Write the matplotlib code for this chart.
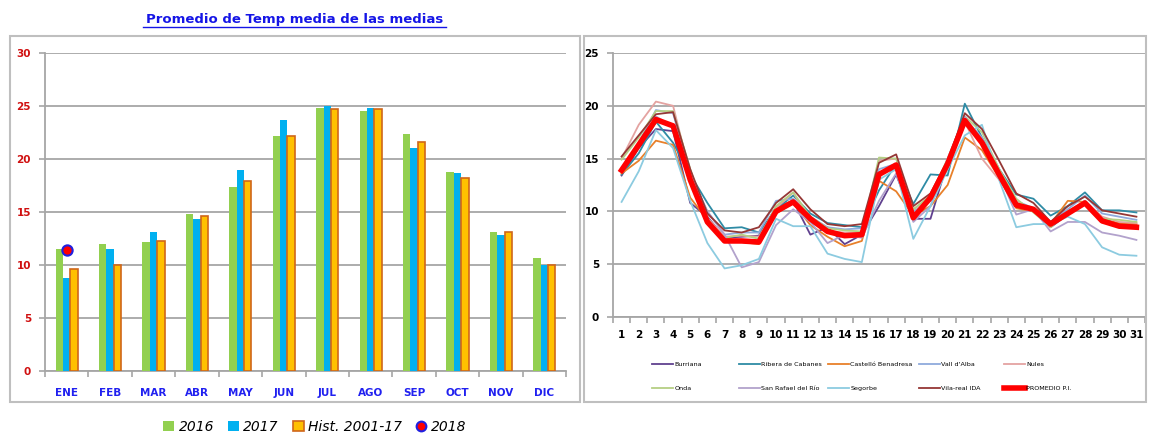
import matplotlib
matplotlib.use("Agg")
import matplotlib.pyplot as plt
import numpy as np
from matplotlib.patches import Rectangle
from matplotlib.lines import Line2D

# ---------------- data: left chart ----------------
months = ["ENE", "FEB", "MAR", "ABR", "MAY", "JUN", "JUL", "AGO", "SEP", "OCT", "NOV", "DIC"]
v2016 = [11.5, 12.0, 12.2, 14.8, 17.4, 22.2, 24.8, 24.5, 22.4, 18.8, 13.1, 10.7]
v2017 = [8.8, 11.5, 13.1, 14.3, 19.0, 23.7, 25.0, 24.8, 21.0, 18.7, 12.8, 10.0]
hist = [9.6, 10.0, 12.3, 14.6, 17.9, 22.2, 24.7, 24.7, 21.6, 18.2, 13.1, 10.0]
v2018 = [11.4]
series_labels = ["2016", "2017", "Hist. 2001-17", "2018"]
left_title = "Promedio de Temp media de las medias"

# ---------------- data: right chart ----------------
days = list(range(1, 32))
burriana = [13.4, 16.0, 17.8, 17.6, 10.8, 9.5, 7.5, 7.6, 7.7, 10.4, 11.0, 7.8, 8.5, 6.9, 7.8, 10.5,
            13.5, 9.3, 9.3, 14.7, 18.3, 16.5, 13.5, 10.5, 10.2, 8.5, 9.7, 11.0, 9.3, 8.8, 8.7]
ribera = [13.5, 15.5, 18.5, 16.5, 13.5, 10.8, 8.4, 8.5, 8.0, 10.2, 11.5, 9.8, 8.9, 8.7, 8.5, 12.0,
          14.5, 10.7, 13.5, 13.4, 20.2, 17.0, 14.0, 11.6, 11.2, 9.6, 10.5, 11.8, 10.1, 10.1, 9.9]
castello = [13.6, 14.8, 16.7, 16.3, 11.3, 9.2, 7.5, 7.1, 6.9, 9.8, 10.8, 8.7, 7.6, 6.7, 7.2, 12.9,
            11.9, 9.6, 10.5, 12.5, 17.0, 15.8, 13.2, 10.3, 10.0, 8.8, 11.0, 10.9, 9.2, 8.9, 8.8]
vall = [14.0, 16.5, 19.6, 19.3, 13.5, 10.0, 7.8, 8.0, 8.0, 11.0, 11.2, 9.5, 8.5, 8.3, 8.4, 14.0,
        14.5, 10.0, 11.0, 15.0, 18.8, 17.0, 14.0, 11.0, 10.3, 9.0, 10.2, 11.5, 9.8, 9.5, 9.2]
nules = [15.0, 18.2, 20.4, 20.0, 13.5, 9.4, 7.6, 7.7, 7.6, 10.3, 11.8, 9.0, 8.1, 8.0, 8.0, 14.8,
         15.0, 10.2, 11.2, 14.8, 18.5, 15.0, 13.0, 11.0, 10.0, 8.5, 10.0, 11.0, 9.5, 9.0, 8.9]
onda = [14.9, 17.0, 19.5, 19.5, 14.0, 9.0, 7.5, 7.8, 7.4, 10.5, 11.8, 9.5, 8.4, 8.2, 8.1, 15.1,
        15.0, 10.2, 11.5, 15.0, 19.0, 17.5, 14.0, 11.2, 9.9, 8.5, 10.0, 10.9, 9.3, 9.2, 9.0]
sanrafael = [13.8, 16.2, 19.0, 18.0, 13.5, 10.0, 7.8, 4.7, 5.2, 8.7, 10.2, 9.0, 7.0, 7.8, 7.5, 11.0,
             13.6, 9.0, 10.5, 15.0, 19.0, 16.5, 13.5, 9.7, 10.2, 8.1, 9.0, 9.0, 8.0, 7.7, 7.3]
segorbe = [10.9, 13.8, 17.7, 16.0, 11.0, 7.0, 4.6, 4.9, 5.5, 9.3, 8.6, 8.6, 6.0, 5.5, 5.2, 13.0,
           14.0, 7.4, 10.5, 14.0, 17.2, 18.2, 13.0, 8.5, 8.8, 8.8, 9.5, 8.8, 6.6, 5.9, 5.8]
vilareal = [15.2, 17.2, 19.2, 19.4, 14.0, 9.8, 8.2, 8.0, 8.5, 10.8, 12.1, 10.2, 8.8, 8.6, 8.8, 14.6,
            15.4, 10.5, 11.7, 14.8, 19.3, 17.8, 14.8, 11.7, 10.8, 9.0, 10.5, 11.4, 10.1, 9.8, 9.5]
promedio = [13.9, 16.3, 18.7, 18.1, 13.0, 9.0, 7.2, 7.2, 7.1, 10.0, 10.9, 9.3, 8.1, 7.7, 7.8, 13.5,
            14.4, 9.4, 11.3, 14.5, 18.6, 16.5, 13.5, 10.6, 10.2, 8.8, 9.8, 10.8, 9.1, 8.6, 8.5]
station_names = ["Burriana", "Ribera de Cabanes", "Castelló Benadresa", "Vall d'Alba", "Nules",
                 "Onda", "San Rafael del Río", "Segorbe", "Vila-real IDA", "PROMEDIO P.I."]
station_values = [burriana, ribera, castello, vall, nules, onda, sanrafael, segorbe, vilareal, promedio]
station_colors = ["#60418F", "#2E8BA5", "#E8802A", "#8FAADC", "#E4A3A1",
                  "#B5CF84", "#B2A2CC", "#8CCBE0", "#953735", "#FF0000"]

W, H = 1149, 434
fig = plt.figure(figsize=(W / 100, H / 100), dpi=100)
fig.patch.set_facecolor("white")

def fx(px):
    return px / W

def fy(py):
    return 1 - py / H

# panel frames
fig.patches.append(Rectangle((fx(10), fy(402)), fx(570), (402 - 36) / H, transform=fig.transFigure,
                             fill=False, edgecolor="#BFBFBF", lw=1.5, zorder=0))
fig.patches.append(Rectangle((fx(584), fy(402)), fx(562), (402 - 36) / H, transform=fig.transFigure,
                             fill=False, edgecolor="#BFBFBF", lw=1.5, zorder=0))

grid_color = "#A6A6A6"

# ---------------- left chart ----------------
ax1 = fig.add_axes([fx(45), fy(371), fx(566 - 45), (371 - 53) / H])
x = np.arange(len(months))
bw = 0.17
ax1.bar(x - bw, v2016, width=bw, color="#92D050", zorder=3, label=series_labels[0])
ax1.bar(x, v2017, width=bw, color="#00B0F0", zorder=3, label=series_labels[1])
ax1.bar(x + bw, hist, width=bw, color="#FFC000", edgecolor="#D0661A", linewidth=1.2, zorder=3,
        label=series_labels[2])
ax1.scatter(x[:len(v2018)], v2018, s=55, color="#FF0000", edgecolor="#2020E0", linewidth=1.5,
            zorder=5, label=series_labels[3])
ax1.set_xlim(-0.5, len(months) - 0.5)
ax1.set_ylim(0, 30)
ax1.set_yticks(range(0, 31, 5))
ax1.yaxis.grid(True, color=grid_color, lw=1.3, zorder=0)
ax1.set_axisbelow(True)
for s in ["top", "right"]:
    ax1.spines[s].set_visible(False)
for s in ["left", "bottom"]:
    ax1.spines[s].set_color(grid_color)
    ax1.spines[s].set_linewidth(1.3)
ax1.set_xticks(np.arange(-0.5, len(months), 1.0))
ax1.set_xticklabels([])
ax1.set_xticks(x, minor=True)
ax1.set_xticklabels(months, minor=True)
ax1.tick_params(axis="x", which="major", length=4, color=grid_color, width=1.2)
ax1.tick_params(axis="x", which="minor", length=0, pad=12)
ax1.tick_params(axis="y", length=4, color=grid_color, width=1.2, pad=6)
for lbl in ax1.get_xticklabels(minor=True):
    lbl.set_color("#2020F0")
    lbl.set_fontweight("bold")
    lbl.set_fontsize(7.5)
for lbl in ax1.get_yticklabels():
    lbl.set_color("#D01010")
    lbl.set_fontweight("bold")
    lbl.set_fontsize(7.5)

fig.text(fx(295), fy(19), left_title, ha="center", va="center", color="#1515E6",
         fontsize=9.5, fontweight="bold", family="DejaVu Sans")
fig.add_artist(Line2D([fx(143), fx(446)], [fy(27), fy(27)], color="#1515E6", lw=1.0))

lh = [Rectangle((0, 0), 1, 1, facecolor="#92D050", edgecolor="none"),
      Rectangle((0, 0), 1, 1, facecolor="#00B0F0", edgecolor="none"),
      Rectangle((0, 0), 1, 1, facecolor="#FFC000", edgecolor="#D0661A", lw=1.2),
      Line2D([], [], marker="o", ls="none", markersize=7, markerfacecolor="#FF0000",
             markeredgecolor="#2020E0", markeredgewidth=1.5)]
fig.legend(lh, series_labels, loc="center", bbox_to_anchor=(fx(315), fy(427)), ncol=4,
           frameon=False, prop={"style": "italic", "size": 10}, handlelength=0.8,
           handleheight=0.8, handletextpad=0.3, columnspacing=1.0)

# ---------------- right chart ----------------
ax2 = fig.add_axes([fx(613), fy(317), fx(1145 - 613), (317 - 53) / H])
for vals, name, col in zip(station_values, station_names, station_colors):
    if name.startswith("PROMEDIO"):
        ax2.plot(days, vals, color=col, lw=4.0, zorder=4, label=name)
    else:
        ax2.plot(days, vals, color=col, lw=1.3, zorder=3, label=name)
ax2.set_xlim(0.5, 31.5)
ax2.set_ylim(0, 25)
ax2.set_yticks(range(0, 26, 5))
ax2.yaxis.grid(True, color=grid_color, lw=1.3, zorder=0)
ax2.set_axisbelow(True)
for s in ["top", "right"]:
    ax2.spines[s].set_visible(False)
for s in ["left", "bottom"]:
    ax2.spines[s].set_color(grid_color)
    ax2.spines[s].set_linewidth(1.3)
ax2.set_xticks(np.arange(0.5, 32, 1.0))
ax2.set_xticklabels([])
ax2.set_xticks(days, minor=True)
ax2.set_xticklabels([str(d) for d in days], minor=True)
ax2.tick_params(axis="x", which="major", length=4, color=grid_color, width=1.2)
ax2.tick_params(axis="x", which="minor", length=0, pad=9)
ax2.tick_params(axis="y", length=4, color=grid_color, width=1.2, pad=6)
for lbl in ax2.get_xticklabels(minor=True) + ax2.get_yticklabels():
    lbl.set_fontweight("bold")
    lbl.set_fontsize(7.5)
    lbl.set_color("#000000")

handles, labels = ax2.get_legend_handles_labels()
col_x = [652, 739, 828, 919, 1004]
for c in range(5):
    idx = [c, c + 5]
    fig.legend([handles[i] for i in idx], [labels[i] for i in idx], loc="center left",
               bbox_to_anchor=(fx(col_x[c]), fy(376.5)), ncol=1, frameon=False,
               prop={"size": 4.6}, handlelength=3.3, handletextpad=0.2,
               labelspacing=2.9, borderpad=0.0, borderaxespad=0.0)

fig.savefig("out.png", dpi=100)
